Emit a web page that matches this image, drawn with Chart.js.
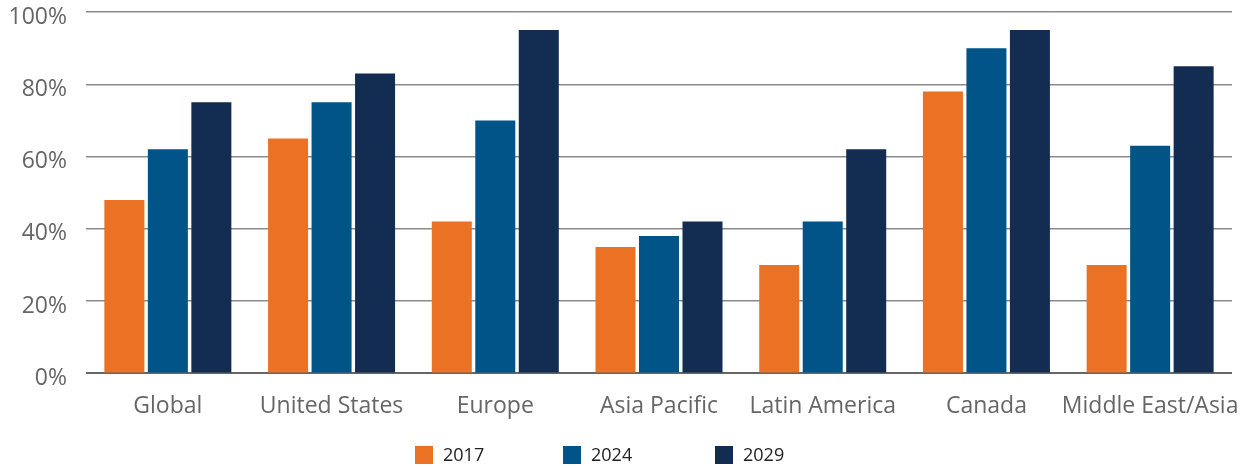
<!DOCTYPE html>
<html><head><meta charset="utf-8">
<script src="https://cdn.jsdelivr.net/npm/chart.js@4"></script>
<style>html,body{margin:0;padding:0;background:#fff}#wrap{width:1252px;height:468px}</style>
</head><body><div id="wrap"><canvas id="c"></canvas></div>
<script>
const categories = ["Global","United States","Europe","Asia Pacific","Latin America","Canada","Middle East/Asia"];
const seriesLabels = ["2017","2024","2029"];
const series2017 = [48,65,42,35,30,78,30];
const series2024 = [62,75,70,38,42,90,63];
const series2029 = [75,83,95,42,62,95,85];
const yTicks = [0,20,40,60,80,100];
const colors = ['#EB7125','#005487','#132C52'];

const FONT = "'Open Sans', Lato, sans-serif";
Chart.defaults.font.family = FONT;

const legendPlugin = {
  id: 'customLegend',
  afterDraw(chart) {
    const ctx = chart.ctx;
    const xs = [415, 563, 715];
    const yC = 455;
    ctx.save();
    ctx.font = "18px " + FONT;
    ctx.textBaseline = 'middle';
    ctx.textAlign = 'left';
    chart.data.datasets.forEach((ds, i) => {
      ctx.fillStyle = ds.backgroundColor;
      ctx.fillRect(xs[i], yC - 9, 18, 18);
      ctx.fillStyle = '#222';
      ctx.fillText(ds.label, xs[i] + 28, yC + 1);
    });
    ctx.restore();
  }
};

new Chart(document.getElementById('c'), {
  type: 'bar',
  data: {
    labels: categories,
    datasets: [
      {label: seriesLabels[0], data: series2017, backgroundColor: colors[0]},
      {label: seriesLabels[1], data: series2024, backgroundColor: colors[1]},
      {label: seriesLabels[2], data: series2029, backgroundColor: colors[2]}
    ]
  },
  plugins: [legendPlugin],
  options: {
    responsive: true, maintainAspectRatio: false, animation: false,
    layout: {padding: {left: 0, right: 20, top: 12, bottom: 29}},
    datasets: {bar: {categoryPercentage: 0.797, barPercentage: 0.92}},
    plugins: {
      legend: {display: false},
      tooltip: {enabled:false}
    },
    scales: {
      x: {
        afterFit: (s) => { s.paddingLeft = 0; s.paddingRight = 0; },
        grid: {display:false, drawTicks:false},
        border: {display:false},
        ticks: {color:'#666', font:{size:23}, padding: 19, maxRotation:0, autoSkip:false}
      },
      y: {
        min: 0, max: 100,
        afterBuildTicks: (ax) => { ax.ticks = yTicks.map(v => ({value: v})); },
        afterFit: (s) => { s.width = 86; s.paddingTop = 0; s.paddingBottom = 0; },
        grid: {
          color: (ctx) => ctx.tick && ctx.tick.value === 0 ? '#666' : '#8a8a8a',
          lineWidth: (ctx) => ctx.tick && ctx.tick.value === 0 ? 2 : 1.4,
          drawTicks:false
        },
        border: {display:false},
        ticks: {color:'#666', font:{size:23}, padding: 19, labelOffset: 5, callback: v => v + '%'}
      }
    }
  }
});
</script></body></html>
